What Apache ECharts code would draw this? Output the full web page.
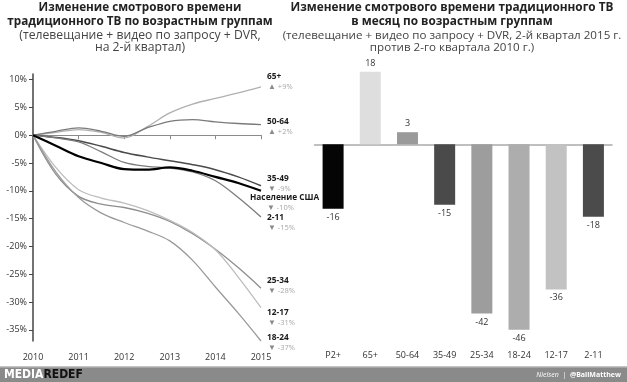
<!DOCTYPE html>
<html><head><meta charset="utf-8">
<script src="https://cdn.jsdelivr.net/npm/echarts@6/dist/echarts.min.js"></script>
<style>html,body{margin:0;padding:0;background:#fff}#c{width:627px;height:382px}</style>
</head><body><div id="c"></div>
<script>
// ---- Left chart data (change vs 2010, %) ----
const years = [2010, 2010.5, 2011, 2011.5, 2012, 2012.5, 2013, 2013.5, 2014, 2014.5, 2015];
const yearTicks = [2010, 2011, 2012, 2013, 2014, 2015];
const pctTicks = [-35, -30, -25, -20, -15, -10, -5, 0, 5, 10];
const s65 =   [0, 0.5, 1.0, 0.5, -0.5, 1.5, 4.0, 5.6, 6.6, 7.6, 8.7];
const s5064 = [0, 0.7, 1.3, 0.7, -0.2, 1.3, 2.5, 2.8, 2.4, 2.1, 1.9];
const s3549 = [0, -0.4, -1.0, -2.0, -3.1, -3.9, -4.6, -5.3, -6.2, -7.5, -9.1];
const sUS =   [0, -1.9, -3.8, -5.0, -6.1, -6.2, -5.8, -6.4, -7.5, -8.6, -10.0];
const s211 =  [0, -0.5, -1.2, -3.0, -4.9, -5.6, -5.9, -6.6, -8.2, -11.2, -14.7];
const s2534 = [0, -7.0, -11.0, -12.4, -13.0, -14.0, -15.5, -17.7, -20.5, -23.8, -27.5];
const s1217 = [0, -5.8, -9.8, -11.3, -12.2, -13.5, -15.3, -17.5, -20.6, -25.5, -31.0];
const s1824 = [0, -6.6, -11.2, -14.0, -15.7, -17.2, -19.0, -22.5, -27.3, -32.0, -37.0];
const lineNames = ['65+', '50-64', '35-49', 'Население США', '2-11', '25-34', '12-17', '18-24'];
const lineLabels = ['+9%', '+2%', '-9%', '-10%', '-15%', '-28%', '-31%', '-37%'];

// ---- Right chart data (monthly change, hours) ----
const barCats = ['P2+', '65+', '50-64', '35-49', '25-34', '18-24', '12-17', '2-11'];
const barVals = [-16, 18, 3, -15, -42, -46, -36, -18];

const lineSeriesData = [s65, s5064, s3549, sUS, s211, s2534, s1217, s1824];
const lineColors = ['#b0b0b0', '#7a7a7a', '#4a4a4a', '#000000', '#7c7c7c', '#8e8e8e', '#bdbdbd', '#9a9a9a'];
const lineWidths = [1.3, 1.3, 1.5, 2.2, 1.3, 1.3, 1.3, 1.3];
const labelOffsets = [[1, -5], [1, 2], [1, -2], [-16, 12], [1, 5.5], [1, -2.5], [1, 10], [1, 1.5]];
const barColors = ['#050505', '#dedede', '#9a9a9a', '#4a4a4a', '#9d9d9d', '#adadad', '#c2c2c2', '#4b4b4b'];

const FONT = '"Open Sans", "Noto Sans", sans-serif';

const chart = echarts.init(document.getElementById('c'), null, {renderer: 'canvas'});

const lineSeries = lineSeriesData.map((arr, i) => ({
  type: 'line',
  xAxisIndex: 0, yAxisIndex: 0,
  data: years.map((y, k) => [y, arr[k]]),
  smooth: 0.35,
  symbol: 'none',
  lineStyle: {color: lineColors[i], width: lineWidths[i]},
  z: i === 3 ? 5 : 3,
  endLabel: {
    show: true,
    align: 'left',
    verticalAlign: 'middle',
    distance: 5,
    offset: labelOffsets[i],
    formatter: () => '{n|' + lineNames[i] + '}\n' + (i === 3 ? '{t2|' : '{t|') + (lineLabels[i][0] === '+' ? '▲' : '▼') + '}{p| ' + lineLabels[i] + '}',
    rich: {
      n: {fontFamily: FONT, fontWeight: 'bold', fontSize: 8.3, color: '#1a1a1a', lineHeight: 10},
      t: {fontSize: 8, color: '#8a8a8a', lineHeight: 10, padding: [0, 0, 0, 1]},
      t2: {fontSize: 8, color: '#8a8a8a', lineHeight: 10, padding: [0, 0, 0, 17]},
      p: {fontFamily: FONT, fontSize: 7.5, color: '#a8a8a8', lineHeight: 10}
    }
  }
}));

const option = {
  animation: false,
  backgroundColor: '#fff',
  title: [
    {
      text: 'Изменение смотрового времени\nтрадиционного ТВ по возрастным группам',
      subtext: '(телевещание + видео по запросу + DVR,\nна 2-й квартал)',
      left: 140, top: 0, textAlign: 'center', padding: 0, itemGap: 0,
      textStyle: {fontFamily: FONT, fontWeight: 'bold', fontSize: 11.7, color: '#222', lineHeight: 14.5},
      subtextStyle: {fontFamily: FONT, fontSize: 12.2, color: '#444', lineHeight: 12.5}
    },
    {
      text: 'Изменение смотрового времени традиционного ТВ\nв месяц по возрастным группам',
      subtext: '(телевещание + видео по запросу + DVR, 2-й квартал 2015 г.\nпротив 2-го квартала 2010 г.)',
      left: 452, top: 0, textAlign: 'center', padding: 0, itemGap: 0,
      textStyle: {fontFamily: FONT, fontWeight: 'bold', fontSize: 11.8, color: '#222', lineHeight: 14.5},
      subtextStyle: {fontFamily: FONT, fontSize: 11.6, color: '#444', lineHeight: 12.5}
    }
  ],
  grid: [
    {left: 33, right: 366, top: 74, bottom: 41},
    {left: 314.5, right: 15, top: 63.7, bottom: 36.2}
  ],
  xAxis: [
    {
      type: 'value', gridIndex: 0, min: 2010, max: 2015, interval: 1,
      position: 'bottom',
      axisLine: {show: false, onZero: false}, axisTick: {show: false}, splitLine: {show: false},
      axisLabel: {margin: 12, fontFamily: FONT, fontSize: 9, color: '#333', formatter: v => String(v)}
    },
    {
      type: 'value', gridIndex: 0, min: 2010, max: 2015, interval: 1,
      position: 'top',
      axisLine: {show: true, onZero: true, lineStyle: {color: '#8a8a8a', width: 1.2}},
      axisTick: {show: true, inside: true, length: 4, lineStyle: {color: '#8a8a8a'}},
      axisLabel: {show: false}, splitLine: {show: false}
    },
    {
      type: 'category', gridIndex: 1, data: barCats, position: 'bottom',
      axisLine: {show: false, onZero: false}, axisTick: {show: false},
      axisLabel: {margin: 5, fontFamily: FONT, fontSize: 9, color: '#333'}
    },
    {
      type: 'category', gridIndex: 1, data: barCats, position: 'top',
      axisLine: {show: true, onZero: true, lineStyle: {color: '#aaa', width: 1.5}},
      axisTick: {show: false}, axisLabel: {show: false}
    }
  ],
  yAxis: [
    {
      type: 'value', gridIndex: 0, min: -37, max: 11,
      axisLine: {show: true, lineStyle: {color: '#444', width: 1.5}},
      axisTick: {show: true, length: 4, customValues: pctTicks, lineStyle: {color: '#444'}},
      splitLine: {show: false},
      axisLabel: {customValues: pctTicks, margin: 6, fontFamily: FONT, fontSize: 9, color: '#333', formatter: v => v + '%'}
    },
    {
      type: 'value', gridIndex: 1, min: -50, max: 20, show: false, splitLine: {show: false}
    }
  ],
  series: lineSeries.concat([
    {
      type: 'bar', xAxisIndex: 2, yAxisIndex: 1,
      data: barVals.map((v, i) => ({value: v, itemStyle: {color: barColors[i]}})),
      barWidth: 21,
      label: {
        show: true, position: 'outside', distance: 4,
        fontFamily: FONT, fontSize: 9, color: '#333'
      },
      labelLayout: {hideOverlap: false}
    }
  ]),
  graphic: [
    {type: 'rect', shape: {x: 0, y: 366, width: 627, height: 16}, style: {fill: '#8a8a8a'}, z: 10},
    {type: 'rect', shape: {x: 0, y: 366, width: 627, height: 1.5}, style: {fill: '#c4c4c4'}, z: 11},
    {type: 'text', x: 4, y: 375, z: 12, style: {
      text: '{a|MEDIA}{b|REDEF}', verticalAlign: 'middle',
      rich: {
        a: {fontFamily: '"DejaVu Sans Condensed", "DejaVu Sans", sans-serif', fontWeight: 'bold', fontSize: 12, fill: '#fff'},
        b: {fontFamily: '"DejaVu Sans Condensed", "DejaVu Sans", sans-serif', fontWeight: 'bold', fontSize: 12, fill: '#111'}
      }}},
    {type: 'text', x: 621, y: 375, z: 12, style: {
      text: '{a|Nielsen}{b|  |  }{c|@BallMatthew}', align: 'right', verticalAlign: 'middle',
      rich: {
        a: {fontFamily: FONT, fontStyle: 'italic', fontSize: 7, fill: '#fff'},
        b: {fontFamily: FONT, fontSize: 7, fill: '#fff'},
        c: {fontFamily: FONT, fontWeight: 'bold', fontSize: 7, fill: '#fff'}
      }}}
  ]
};
chart.setOption(option);
</script>
</body></html>
